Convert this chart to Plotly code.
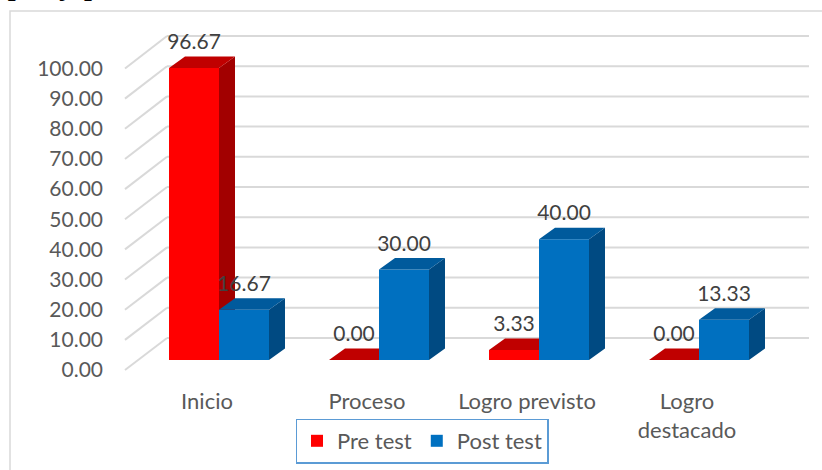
import plotly.graph_objects as go

# ---------------- data ----------------
categories = ["Inicio", "Proceso", "Logro previsto", "Logro destacado"]
tick_labels = ["Inicio", "Proceso", "Logro previsto", "Logro<br>destacado"]
series_names = ["Pre test", "Post test"]
pre_test = [96.67, 0.00, 3.33, 0.00]
post_test = [16.67, 30.00, 40.00, 13.33]
y_ticks = [0, 10, 20, 30, 40, 50, 60, 70, 80, 90, 100]

# ---------------- geometry (pixels) ----------------
W, H = 822, 470
L, R, T, B = 110, 812, 30, 375
X0 = 219          # pixel x of first category centre (front plane)
PX_CAT = 160      # pixels per category
BASE_FRONT = 360  # pixel y of value 0 on front plane
PX_VAL = 3.02     # pixels per value unit
LABEL_BASE = 370  # pixel y of 0.00 tick label
PX_LABEL = 3.015
WALL_BASE = 338   # pixel y of 0 on back wall
WALL_X0, WALL_X1 = 167, 809
DIAG_X0 = 125


def xd(p):
    return (p - X0) / PX_CAT


def vb(p):
    return (BASE_FRONT - p) / PX_VAL


bar_w = 50 / PX_CAT
dx = 16 / PX_CAT
dy = 11.5 / PX_VAL
label_off = 24 / PX_VAL

FONT = "Lato"
AXIS_COL = "#595959"
LABEL_COL = "#404040"
GRID_COL = "#D9D9D9"

styles = [
    dict(front="#FF0000", top="#C00000", side="#A20000", offset=-bar_w, axis="y2"),
    dict(front="#0070C0", top="#005A9C", side="#004A82", offset=0.0, axis="y3"),
]
values = [pre_test, post_test]

fig = go.Figure()

xs = list(range(len(categories)))

# invisible anchor trace so the tick-label axis is drawn
fig.add_trace(go.Scatter(
    x=[xs[0]] * len(y_ticks), y=y_ticks, mode="markers",
    marker=dict(opacity=0), showlegend=False, hoverinfo="skip",
    xaxis="x", yaxis="y"))

for name, vals, st in zip(series_names, values, styles):
    fig.add_trace(go.Bar(
        x=xs, y=vals, name=name, width=bar_w, offset=st["offset"],
        marker=dict(color=st["front"], line=dict(width=0)),
        xaxis="x", yaxis=st["axis"], hoverinfo="skip",
    ))
    tx, ty, sx, sy = [], [], [], []
    for i, v in zip(xs, vals):
        xl = i + st["offset"]
        xr = xl + bar_w
        tx += [xl, xr, xr + dx, xl + dx, xl, None]
        ty += [v, v, v + dy, v + dy, v, None]
        sx += [xr, xr, xr + dx, xr + dx, xr, None]
        sy += [0, v, v + dy, dy, 0, None]
    fig.add_trace(go.Scatter(
        x=sx, y=sy, fill="toself", fillcolor=st["side"], mode="lines",
        line=dict(width=0, color=st["side"]), showlegend=False,
        hoverinfo="skip", xaxis="x", yaxis=st["axis"]))
    fig.add_trace(go.Scatter(
        x=tx, y=ty, fill="toself", fillcolor=st["top"], mode="lines",
        line=dict(width=0, color=st["top"]), showlegend=False,
        hoverinfo="skip", xaxis="x", yaxis=st["axis"]))

# data labels (top layer)
lx, ly, lt = [], [], []
for vals, st in zip(values, styles):
    for i, v in zip(xs, vals):
        lx.append(i + st["offset"] + bar_w / 2)
        ly.append(v + label_off)
        lt.append(f"{v:.2f}")
fig.add_trace(go.Scatter(
    x=lx, y=ly, text=lt, mode="text", textposition="middle center",
    textfont=dict(family=FONT, size=21, color=LABEL_COL),
    showlegend=False, hoverinfo="skip", xaxis="x", yaxis="y3"))

# back wall gridlines and floor diagonals
shapes = []
for t in y_ticks:
    wall_v = t + vb(WALL_BASE)
    shapes.append(dict(type="line", xref="x", yref="y2", layer="below",
                       x0=xd(WALL_X0), x1=xd(WALL_X1), y0=wall_v, y1=wall_v,
                       line=dict(color=GRID_COL, width=2)))
    start_v = vb(LABEL_BASE - PX_LABEL * t)
    shapes.append(dict(type="line", xref="x", yref="y2", layer="below",
                       x0=xd(DIAG_X0), x1=xd(WALL_X0), y0=start_v, y1=wall_v,
                       line=dict(color=GRID_COL, width=2)))

# outer chart border
pw, ph = R - L, B - T
shapes.append(dict(type="rect", xref="paper", yref="paper", layer="below",
                   x0=(10 - L) / pw, x1=(830 - L) / pw,
                   y0=(B - 480) / ph, y1=(B - 11) / ph,
                   line=dict(color=GRID_COL, width=1.5), fillcolor="rgba(0,0,0,0)"))

fig.update_layout(
    width=W, height=H,
    margin=dict(l=L, r=W - R, t=T, b=H - B, autoexpand=False),
    paper_bgcolor="white", plot_bgcolor="rgba(0,0,0,0)",
    shapes=shapes,
    showlegend=True,
    legend=dict(orientation="h", xanchor="center", yanchor="middle",
                x=(422 - L) / pw, y=(B - 441) / ph,
                bordercolor="#5B9BD5", borderwidth=1.5,
                font=dict(family=FONT, size=22, color=AXIS_COL),
                traceorder="normal"),
    xaxis=dict(range=[xd(L), xd(R)], tickmode="array",
               tickvals=[i - 12 / PX_CAT for i in xs], ticktext=tick_labels,
               tickfont=dict(family=FONT, size=22, color=AXIS_COL),
               showgrid=False, zeroline=False, showline=False, ticks="",
               ticklabelstandoff=11, automargin=False),
    yaxis=dict(range=[(LABEL_BASE - B) / PX_LABEL, (LABEL_BASE - T) / PX_LABEL],
               tickmode="array", tickvals=y_ticks,
               ticktext=[f"{t:.2f}" for t in y_ticks],
               tickfont=dict(family=FONT, size=21, color=AXIS_COL),
               showgrid=False, zeroline=False, showline=False, ticks="",
               ticklabelstandoff=6, automargin=False),
    yaxis2=dict(range=[vb(B), vb(T)], overlaying="y", anchor="x", visible=False),
    yaxis3=dict(range=[vb(B), vb(T)], overlaying="y", anchor="x", visible=False),
    annotations=[dict(text="pre y post test.", xref="paper", yref="paper",
                      x=(6 - L) / pw, y=(B - 2.5) / ph, xanchor="left", yanchor="bottom",
                      showarrow=False,
                      font=dict(family="Liberation Serif", size=34, color="black",
                                style="italic"))],
)

fig.write_html("out.html",
               config={"displayModeBar": False},
               post_script="document.body.style.margin='0';")
